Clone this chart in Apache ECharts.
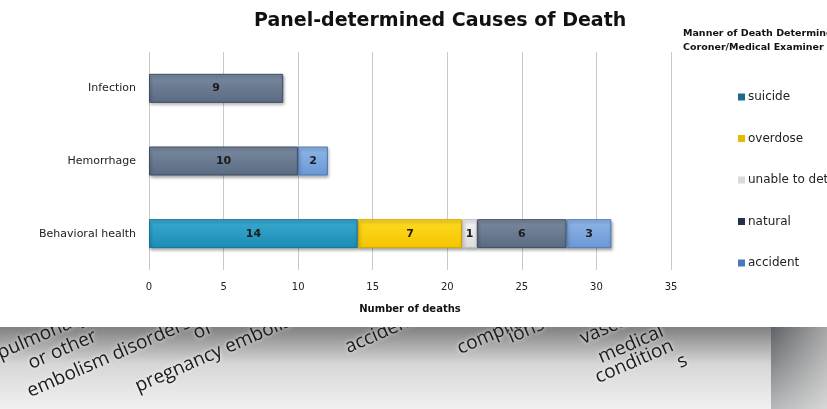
<!DOCTYPE html>
<html>
<head>
<meta charset="utf-8">
<script src="https://cdn.jsdelivr.net/npm/echarts@6/dist/echarts.min.js"></script>
<style>
  html, body { margin: 0; padding: 0; background: #fff; }
  #chart { width: 827px; height: 409px; }
</style>
</head>
<body>
<div id="chart"></div>
<script>
// Causes of death, stacked by the manner of death recorded for each case
const categories = ['Infection', 'Hemorrhage', 'Behavioral health'];
const mannerNames = ['suicide', 'overdose', 'unable to determine', 'natural', 'accident'];
const suicide = [0, 0, 14];
const overdose = [0, 0, 7];
const unableToDetermine = [0, 0, 1];
const natural = [9, 10, 6];
const accident = [0, 2, 3];
const xMin = 0;
const xMax = 35;
const xStep = 5;

// Labels of the neighbouring chart, partly visible along the bottom strip
const lowerLabels = ['pulmonary', 'or other', 'embolism disorders', 'of', 'pregnancy embolism',
  'accident', 'complications', 'ions non-', 'vascular', 'medical', 'condition', 's'];
const lowerLabelAnchors = [[2, 363], [33, 373], [32, 401], [198, 343], [140, 396],
  [350, 357], [462, 358], [513, 347], [585, 348], [603, 367], [600, 387], [682, 372]];

const valuesByManner = [suicide, overdose, unableToDetermine, natural, accident];
const styles = [
  { top: '#3aa9ce', bottom: '#1a8db6', border: '#157396', legend: '#1b6a8c' },
  { top: '#ffdc22', bottom: '#f4c300', border: '#d6a900', legend: '#e6b800' },
  { top: '#f4f4f4', bottom: '#dcdcdc', border: '#bdbdbd', legend: '#d9d9d9' },
  { top: '#7a8aa0', bottom: '#5a6a82', border: '#3f4d61', legend: '#253247' },
  { top: '#8fb6e8', bottom: '#6b98d4', border: '#4f7cba', legend: '#4a78b8' }
];

const FONT = '"DejaVu Sans", sans-serif';

const series = mannerNames.map((name, i) => ({
  name: name,
  type: 'bar',
  stack: 'manner',
  barWidth: 29,
  data: valuesByManner[i].map(v => (v > 0 ? v : '-')),
  itemStyle: {
    color: new echarts.graphic.LinearGradient(0, 0, 0, 1, [
      { offset: 0, color: styles[i].top },
      { offset: 1, color: styles[i].bottom }
    ]),
    borderColor: styles[i].border,
    borderWidth: 1,
    shadowColor: 'rgba(0,0,0,0.35)',
    shadowBlur: 3,
    shadowOffsetX: 1,
    shadowOffsetY: 2
  },
  label: {
    show: true,
    position: 'inside',
    color: '#1c1c1c',
    fontFamily: FONT,
    fontWeight: 'bold',
    fontSize: 11,
    formatter: p => (p.value > 0 ? String(p.value) : '')
  },
  emphasis: { disabled: true }
}));

const chart = echarts.init(document.getElementById('chart'), null, { renderer: 'canvas' });

chart.setOption({
  animation: false,
  backgroundColor: '#ffffff',
  title: {
    text: 'Panel-determined Causes of Death',
    left: 249,
    top: 7,
    textStyle: { fontFamily: FONT, fontWeight: 'bold', fontSize: 19, color: '#111' }
  },
  legend: {
    orient: 'vertical',
    left: 733,
    top: 86,
    itemWidth: 7,
    itemHeight: 7,
    itemGap: 29.5,
    icon: 'rect',
    selectedMode: false,
    textStyle: { fontFamily: FONT, fontSize: 12, color: '#222', padding: [0, 0, 0, -2] },
    data: mannerNames.map((n, i) => ({ name: n, itemStyle: { color: styles[i].legend, borderWidth: 0, shadowBlur: 0 } }))
  },
  grid: { left: 149, width: 522, top: 52, height: 218, containLabel: false },
  xAxis: {
    type: 'value',
    min: xMin,
    max: xMax,
    interval: xStep,
    name: 'Number of deaths',
    nameLocation: 'middle',
    nameGap: 34,
    nameTextStyle: { fontFamily: FONT, fontWeight: 'bold', fontSize: 10, color: '#111' },
    axisLine: { show: false },
    axisTick: { show: false },
    axisLabel: { fontFamily: FONT, fontSize: 10, color: '#222', margin: 12 },
    splitLine: { show: true, lineStyle: { color: '#c9c9c9', width: 1 } }
  },
  yAxis: {
    type: 'category',
    inverse: true,
    data: categories,
    axisLine: { show: false },
    axisTick: { show: false },
    axisLabel: { fontFamily: FONT, fontSize: 11, color: '#222', margin: 13 },
    splitLine: { show: false }
  },
  graphic: [
    {
      type: 'text',
      left: 683,
      top: 27,
      style: {
        text: 'Manner of Death Determined by\nCoroner/Medical Examiner',
        font: 'bold 9.5px ' + FONT,
        fill: '#111',
        lineHeight: 14
      }
    },
    {
      // grey strip below the chart
      type: 'rect',
      shape: { x: 0, y: 327, width: 827, height: 82 },
      style: {
        fill: new echarts.graphic.LinearGradient(0, 0, 0, 1, [
          { offset: 0, color: '#808080' },
          { offset: 0.45, color: '#d6d6d6' },
          { offset: 1, color: '#f1f1f1' }
        ])
      },
      z: -10
    },
    {
      type: 'rect',
      shape: { x: 771, y: 327, width: 56, height: 82 },
      style: {
        fill: new echarts.graphic.LinearGradient(0, 0, 1, 0, [
          { offset: 0, color: '#5e6266' },
          { offset: 1, color: '#a6a6a6' }
        ])
      },
      z: -9
    },
    {
      type: 'rect',
      shape: { x: 771, y: 327, width: 56, height: 82 },
      style: {
        fill: new echarts.graphic.LinearGradient(0, 0, 0, 1, [
          { offset: 0, color: 'rgba(255,255,255,0)' },
          { offset: 1, color: 'rgba(255,255,255,0.55)' }
        ])
      },
      z: -8
    }
  ],
  series: series
});

// Rotated labels, clipped to the grey strip
const zr = chart.getZr();
const labelGroup = new echarts.graphic.Group();
labelGroup.setClipPath(new echarts.graphic.Rect({ shape: { x: 0, y: 327, width: 771, height: 82 } }));
lowerLabels.forEach((txt, i) => {
  labelGroup.add(new echarts.graphic.Text({
    x: lowerLabelAnchors[i][0],
    y: lowerLabelAnchors[i][1],
    rotation: 0.41,
    style: {
      text: txt,
      font: '19px "Open Sans", sans-serif',
      fill: '#1a1a1a',
      verticalAlign: 'bottom',
      align: 'left',
      textShadowColor: '#ffffff',
      textShadowBlur: 4
    },
    z: 5
  }));
});
zr.add(labelGroup);
</script>
</body>
</html>
